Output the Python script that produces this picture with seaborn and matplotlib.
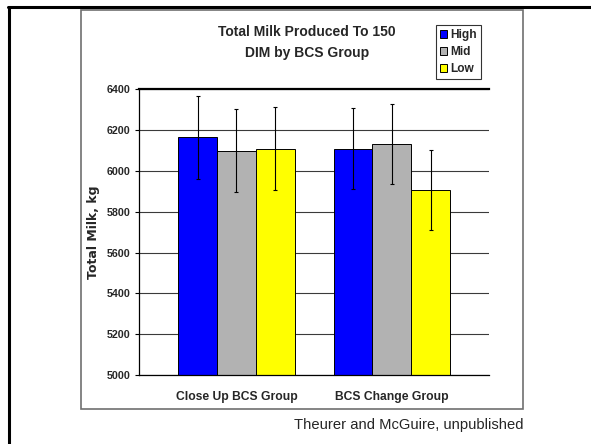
import numpy as np
import pandas as pd
import matplotlib
matplotlib.use("Agg")
import matplotlib.pyplot as plt
import seaborn as sns
from matplotlib.patches import Patch, Rectangle
from matplotlib.lines import Line2D

groups = ["Close Up BCS Group", "BCS Change Group"]
levels = ["High", "Mid", "Low"]
milk_close_up = [6163, 6098, 6108]
milk_change = [6108, 6129, 5904]
err_close_up = [203, 203, 203]
err_change = [197, 196, 195]
colors = ["#0000FF", "#B2B2B2", "#FFFF00"]
yticks = [5000, 5200, 5400, 5600, 5800, 6000, 6200, 6400]

W, H = 591, 444


def build_frame():
    return pd.DataFrame({
        "group": [groups[0]] * 3 + [groups[1]] * 3,
        "bcs": levels * 2,
        "milk": milk_close_up + milk_change,
        "err": err_close_up + err_change,
    })


def main():
    df = build_frame()
    sns.set_style("white")
    plt.rcParams["font.family"] = ["Liberation Sans", "DejaVu Sans"]

    fig = plt.figure(figsize=(W / 100, H / 100), dpi=100)
    ax = fig.add_axes([139.3 / W, 1 - 375.3 / H, 349.7 / W, 286.4 / H])

    sns.barplot(data=df, x="group", y="milk", hue="bcs", order=groups,
                hue_order=levels, palette=colors, width=0.75, errorbar=None,
                edgecolor="black", linewidth=0.7, saturation=1,
                legend=False, ax=ax)

    # error bars centred on the seaborn bars
    for lvl, cont in zip(levels, ax.containers):
        sub = df[df["bcs"] == lvl].set_index("group").loc[groups]
        xs = [b.get_x() + b.get_width() / 2 for b in cont]
        ax.errorbar(xs, sub["milk"], yerr=sub["err"], fmt="none",
                    ecolor="black", elinewidth=0.8, capsize=1.5,
                    capthick=0.8, zorder=5)

    ax.set_ylim(5000, 6400)
    ax.set_yticks(yticks)
    ax.set_yticklabels([str(t) for t in yticks], fontsize=7.7, fontweight="bold")
    ax.set_xlim(-0.625, 1.625)
    ax.set_xticks(range(len(groups)))
    ax.set_xticklabels(groups, fontsize=8.7, fontweight="bold")
    ax.set_xticks(np.arange(-0.625, 1.626, 0.25), minor=True)
    ax.tick_params(axis="x", which="major", length=0, pad=11)
    ax.tick_params(axis="x", which="minor", length=3, width=0.8,
                   direction="out", color="black")
    ax.tick_params(axis="y", length=3, width=0.8, direction="out",
                   color="black", pad=3.5, left=True)

    ax.set_axisbelow(True)
    ax.yaxis.grid(True, color="#3a3a3a", linewidth=0.8)
    ax.xaxis.grid(False)
    for side in ["left", "bottom"]:
        ax.spines[side].set_color("black")
        ax.spines[side].set_linewidth(0.9)
    ax.spines["top"].set_color("black")
    ax.spines["top"].set_linewidth(1.6)
    ax.spines["right"].set_visible(False)

    ax.set_xlabel("")
    ax.set_ylabel("Total Milk, kg", fontsize=9, fontweight="bold",
                  family="DejaVu Sans")
    ax.yaxis.set_label_coords((100 - 139.3) / 349.7, 0.5)

    fig.text(307 / W, 1 - 36 / H, "Total Milk Produced To 150",
             ha="center", va="baseline", fontsize=10, fontweight="bold")
    fig.text(307 / W, 1 - 57.5 / H, "DIM by BCS Group",
             ha="center", va="baseline", fontsize=10, fontweight="bold")

    handles = [Patch(facecolor=c, edgecolor="black", linewidth=0.7) for c in colors]
    leg = fig.legend(handles, levels, loc="upper left",
                     bbox_to_anchor=(436 / W, 1 - 25 / H),
                     frameon=True, fancybox=False, edgecolor="black",
                     handlelength=0.55, handleheight=0.65, handletextpad=0.3,
                     borderpad=0.35, borderaxespad=0, labelspacing=0.4,
                     prop={"weight": "bold", "size": 8.6})
    leg.get_frame().set_linewidth(0.8)

    fig.text(523 / W, 1 - 425 / H, "Theurer and McGuire, unpublished",
             ha="right", va="center", fontsize=10.6)

    # inner chart box and outer slide frame
    fig.add_artist(Rectangle((80.5 / W, 1 - 408.5 / H), (523 - 80.5) / W,
                             (408.5 - 10) / H, transform=fig.transFigure,
                             fill=False, edgecolor="#707070", linewidth=1.2))
    fig.add_artist(Line2D([7.5 / W, 1], [1 - 7.5 / H, 1 - 7.5 / H],
                          transform=fig.transFigure, color="black", linewidth=2.2))
    fig.add_artist(Line2D([8.5 / W, 8.5 / W], [1 - 7 / H, 0],
                          transform=fig.transFigure, color="black", linewidth=2.2))

    fig.savefig("out.png", dpi=100)
    plt.close(fig)


if __name__ == "__main__":
    main()
